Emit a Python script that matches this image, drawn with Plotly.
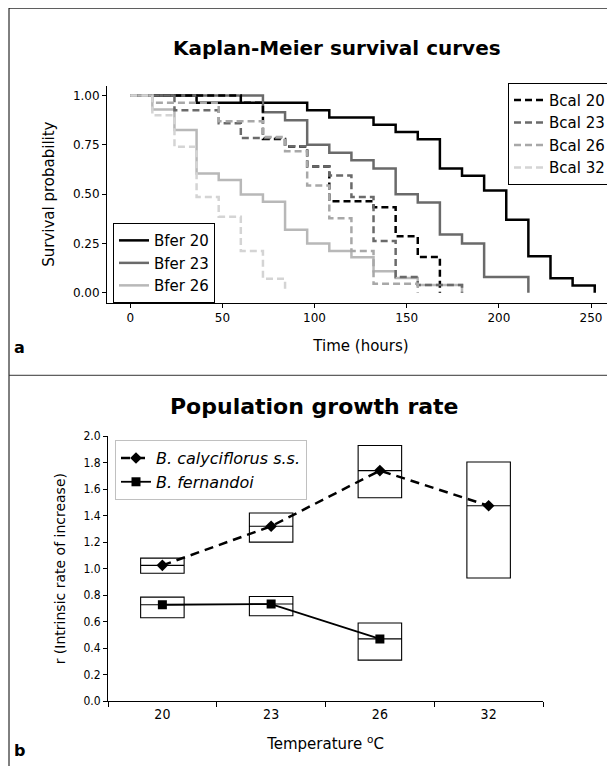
import plotly.graph_objects as go

# ---------------- Panel a: Kaplan-Meier data ----------------
t_bfer20 = [0, 36, 96, 108, 132, 144, 156, 168, 180, 192, 204, 216, 228, 240, 252]
s_bfer20 = [1.0, 0.963, 0.926, 0.889, 0.852, 0.815, 0.778, 0.630, 0.593, 0.519, 0.370, 0.185, 0.074, 0.037, 0.0]
t_bfer23 = [0, 72, 84, 96, 108, 120, 132, 144, 156, 168, 180, 192, 216]
s_bfer23 = [1.0, 0.915, 0.875, 0.75, 0.71, 0.672, 0.63, 0.50, 0.458, 0.295, 0.25, 0.08, 0.0]
t_bfer26 = [0, 12, 24, 36, 48, 60, 72, 84, 96, 108, 120, 132, 144, 156, 180]
s_bfer26 = [1.0, 0.929, 0.825, 0.605, 0.572, 0.498, 0.461, 0.32, 0.25, 0.212, 0.180, 0.109, 0.075, 0.04, 0.0]
t_bcal20 = [0, 60, 72, 84, 96, 108, 132, 144, 156, 168]
s_bcal20 = [1.0, 0.963, 0.78, 0.741, 0.64, 0.464, 0.433, 0.287, 0.182, 0.0]
t_bcal23 = [0, 24, 48, 60, 84, 96, 108, 120, 132, 144, 156, 180]
s_bcal23 = [1.0, 0.925, 0.86, 0.785, 0.743, 0.64, 0.594, 0.486, 0.262, 0.08, 0.04, 0.0]
t_bcal26 = [0, 12, 48, 72, 84, 96, 108, 120, 132, 156]
s_bcal26 = [1.0, 0.963, 0.87, 0.79, 0.718, 0.544, 0.378, 0.212, 0.046, 0.0]
t_bcal32 = [0, 12, 24, 36, 48, 60, 72, 84]
s_bcal32 = [1.0, 0.90, 0.74, 0.486, 0.386, 0.212, 0.071, 0.0]

time_ticks = [0, 50, 100, 150, 200, 250]
surv_ticks = [0.0, 0.25, 0.5, 0.75, 1.0]

# ---------------- Panel b: population growth rate ----------------
temps = ["20", "23", "26", "32"]
cal_median = [1.025, 1.32, 1.74, 1.475]
cal_q1 = [0.965, 1.20, 1.535, 0.93]
cal_q3 = [1.08, 1.42, 1.93, 1.805]
fer_temps = ["20", "23", "26"]
fer_median = [0.728, 0.733, 0.47]
fer_q1 = [0.63, 0.645, 0.31]
fer_q3 = [0.785, 0.79, 0.59]

FONT = "DejaVu Sans"
COND = "DejaVu Sans Condensed, DejaVu Sans"
OFF = 8            # browser body margin
W, H = 607, 765    # figure size so that page (with margin) matches 615x773

fig = go.Figure()

solid = [("Bfer 20", t_bfer20, s_bfer20, "#000000"),
         ("Bfer 23", t_bfer23, s_bfer23, "#6a6a6a"),
         ("Bfer 26", t_bfer26, s_bfer26, "#b8b8b8")]
dashed = [("Bcal 20", t_bcal20, s_bcal20, "#000000"),
          ("Bcal 23", t_bcal23, s_bcal23, "#6a6a6a"),
          ("Bcal 26", t_bcal26, s_bcal26, "#a8a8a8"),
          ("Bcal 32", t_bcal32, s_bcal32, "#d4d4d4")]

for name, t, s, c in solid:
    fig.add_trace(go.Scatter(x=t, y=s, name=name, mode="lines", line_shape="hv",
                             line=dict(color=c, width=2.5), xaxis="x", yaxis="y",
                             legend="legend"))
for name, t, s, c in dashed:
    fig.add_trace(go.Scatter(x=t, y=s, name=name, mode="lines", line_shape="hv",
                             line=dict(color=c, width=2.5, dash="7px,4px"), xaxis="x", yaxis="y",
                             legend="legend2"))

# Panel b boxes
fig.add_trace(go.Box(x=temps, q1=cal_q1, median=cal_median, q3=cal_q3,
                     lowerfence=cal_q1, upperfence=cal_q3, width=0.4, whiskerwidth=0,
                     fillcolor="white", line=dict(color="black", width=1.1),
                     boxpoints=False, hoverinfo="skip", showlegend=False,
                     xaxis="x2", yaxis="y2"))
fig.add_trace(go.Box(x=fer_temps, q1=fer_q1, median=fer_median, q3=fer_q3,
                     lowerfence=fer_q1, upperfence=fer_q3, width=0.4, whiskerwidth=0,
                     fillcolor="white", line=dict(color="black", width=1.1),
                     boxpoints=False, hoverinfo="skip", showlegend=False,
                     xaxis="x2", yaxis="y2"))
fig.add_trace(go.Scatter(x=temps, y=cal_median, name="<i>B. calyciflorus s.s.</i>",
                         mode="lines+markers", line=dict(color="black", width=2.5, dash="9px,6px"),
                         marker=dict(symbol="diamond", size=9, color="black"),
                         xaxis="x2", yaxis="y2", legend="legend3"))
fig.add_trace(go.Scatter(x=fer_temps, y=fer_median, name="<i>B. fernandoi</i>",
                         mode="lines+markers", line=dict(color="black", width=1.8),
                         marker=dict(symbol="square", size=9, color="black"),
                         xaxis="x2", yaxis="y2", legend="legend3"))


def px_x(p):
    return (p - OFF) / W


def px_y(p):
    return 1 - (p - OFF) / H


axis_common = dict(showgrid=False, zeroline=False, showline=True, linecolor="black",
                   linewidth=1, ticks="outside", tickcolor="black", ticklen=4,
                   tickfont=dict(family=FONT, size=12, color="black"))


def ann(text, x, y, size):
    return dict(text=text, x=px_x(x), y=px_y(y), xref="paper", yref="paper",
                xanchor="center", yanchor="middle", showarrow=False,
                font=dict(size=size, family=FONT, color="black"))


def hline(x0, x1, y, color="black"):
    return dict(type="line", xref="paper", yref="paper", x0=px_x(x0), x1=px_x(x1),
                y0=px_y(y), y1=px_y(y), line=dict(color=color, width=1))


def vline(x, y0, y1, color="black"):
    return dict(type="line", xref="paper", yref="paper", x0=px_x(x), x1=px_x(x),
                y0=px_y(y0), y1=px_y(y1), line=dict(color=color, width=1))


fig.update_layout(
    width=W, height=H, margin=dict(l=0, r=0, t=0, b=0),
    paper_bgcolor="white", plot_bgcolor="white",
    font=dict(family=FONT, color="black"),
    boxmode="overlay",
    xaxis=dict(axis_common, domain=[px_x(107), 1.0], range=[-12.6, 263],
               tickvals=time_ticks, anchor="y",
               title=dict(text="Time (hours)", font=dict(size=15), standoff=16)),
    yaxis=dict(axis_common, domain=[px_y(301), px_y(80)], range=[-0.05, 1.05],
               tickvals=surv_ticks, tickformat=".2f", anchor="x",
               title=dict(text="Survival probability", font=dict(size=15), standoff=14)),
    xaxis2=dict(axis_common, domain=[px_x(108), px_x(543)], type="category",
                categoryorder="array", categoryarray=temps, range=[-0.5, 3.5],
                tickson="boundaries", ticklen=5, anchor="y2",
                tickfont=dict(family=COND, size=14),
                title=dict(text="Temperature <sup>o</sup>C", font=dict(size=15), standoff=17)),
    yaxis2=dict(axis_common, domain=[px_y(707), px_y(437)], range=[0, 2.0],
                dtick=0.2, tick0=0, tickformat=".1f", anchor="x2",
                tickfont=dict(family=COND, size=12),
                title=dict(text="r (Intrinsic rate of increase)", font=dict(size=14), standoff=14)),
    legend=dict(x=px_x(113), y=px_y(220), xanchor="left", yanchor="top",
                bordercolor="black", borderwidth=1, bgcolor="white",
                font=dict(family=FONT, size=15), tracegroupgap=0),
    legend2=dict(x=px_x(508), y=px_y(77), xanchor="left", yanchor="top",
                 bordercolor="black", borderwidth=1, bgcolor="white",
                 font=dict(family=FONT, size=15), tracegroupgap=0),
    legend3=dict(x=px_x(115), y=px_y(441), xanchor="left", yanchor="top",
                 bordercolor="#c0c0c0", borderwidth=1, bgcolor="white",
                 font=dict(family=FONT, size=16), tracegroupgap=0),
    annotations=[
        ann("<b>Kaplan-Meier survival curves</b>", 337, 42, 20),
        ann("<b>Population growth rate</b>", 314, 407, 22),
        ann("<b>a</b>", 20, 347, 16),
        ann("<b>b</b>", 20, 757, 16),
    ],
    shapes=[
        vline(9, 0, 773),
        hline(9, 613, 1),
        vline(613, 1, 375),
        hline(9, 615, 375, "#333333"),
    ],
)

fig.write_html("out.html")
